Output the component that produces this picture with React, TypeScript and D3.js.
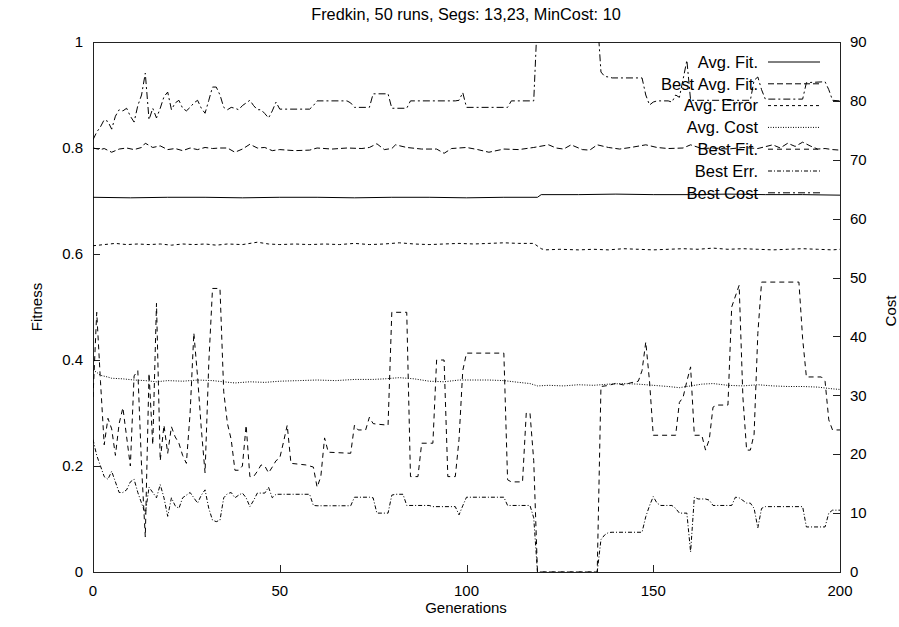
import React from 'react';
import * as d3 from 'd3';

const titleText = 'Fredkin, 50 runs, Segs: 13,23, MinCost: 10';
const xLabel = 'Generations';
const yLeftLabel = 'Fitness';
const yRightLabel = 'Cost';
const xTicks = [0, 50, 100, 150, 200];
const yLeftTicks = [0, 0.2, 0.4, 0.6, 0.8, 1];
const yRightTicks = [0, 10, 20, 30, 40, 50, 60, 70, 80, 90];

// [generation, value] — fitness series use the left axis, error/cost series the right axis
const avgFit: [number, number][] = [
  [0, 0.707], [10, 0.706], [20, 0.707], [30, 0.707], [40, 0.706], [50, 0.707], [60, 0.707], [70, 0.706],
  [80, 0.707], [90, 0.707], [100, 0.706], [110, 0.707], [119, 0.707], [120, 0.712], [130, 0.712], [140, 0.713],
  [150, 0.712], [160, 0.712], [170, 0.713], [180, 0.712], [190, 0.712], [200, 0.711],
];

const bestAvgFit: [number, number][] = [
  [0, 0.8], [2, 0.797], [3, 0.799], [5, 0.792], [7, 0.798], [9, 0.8], [11, 0.797], [13, 0.801], [14, 0.809],
  [16, 0.801], [18, 0.804], [20, 0.797], [22, 0.799], [24, 0.795], [26, 0.8], [28, 0.797], [30, 0.801],
  [32, 0.799], [34, 0.8], [36, 0.8], [38, 0.792], [40, 0.798], [42, 0.807], [44, 0.8], [46, 0.801], [48, 0.795],
  [50, 0.797], [54, 0.795], [58, 0.796], [60, 0.8], [64, 0.798], [68, 0.8], [72, 0.799], [74, 0.801],
  [76, 0.808], [78, 0.797], [80, 0.799], [81, 0.806], [84, 0.801], [88, 0.798], [92, 0.798], [94, 0.79],
  [96, 0.799], [100, 0.801], [103, 0.797], [106, 0.792], [110, 0.798], [114, 0.797], [118, 0.801], [122, 0.806],
  [124, 0.8], [126, 0.798], [128, 0.806], [131, 0.797], [133, 0.796], [135, 0.806], [138, 0.801], [141, 0.798],
  [144, 0.801], [148, 0.806], [151, 0.801], [154, 0.799], [158, 0.8], [160, 0.806], [163, 0.799], [166, 0.8],
  [170, 0.798], [174, 0.801], [178, 0.799], [182, 0.806], [184, 0.8], [186, 0.809], [188, 0.803], [190, 0.811],
  [192, 0.804], [194, 0.798], [196, 0.799], [198, 0.797], [200, 0.796],
];

const avgError: [number, number][] = [
  [0, 55.4], [3, 55.6], [6, 55.8], [9, 55.6], [12, 55.7], [15, 55.6], [18, 55.7], [21, 55.5], [24, 55.7],
  [27, 55.6], [30, 55.7], [33, 55.5], [36, 55.7], [40, 55.6], [44, 56.0], [47, 55.7], [50, 55.6], [54, 55.7],
  [58, 55.6], [62, 55.7], [66, 55.6], [70, 55.8], [74, 55.6], [78, 55.7], [82, 55.9], [86, 55.7], [90, 55.6],
  [94, 55.7], [98, 55.8], [102, 55.7], [106, 55.8], [110, 55.9], [114, 55.8], [118, 55.8], [120, 54.9],
  [121, 54.7], [125, 54.8], [130, 54.7], [134, 54.8], [138, 54.7], [142, 54.9], [146, 54.8], [150, 54.7],
  [154, 54.8], [158, 54.9], [162, 54.8], [166, 55.0], [170, 54.8], [174, 54.9], [178, 54.8], [182, 54.7],
  [186, 54.8], [190, 54.9], [194, 54.8], [198, 54.7], [200, 54.8],
];

const avgCost: [number, number][] = [
  [0, 34.3], [1, 33.9], [2, 33.4], [4, 33.1], [5, 32.9], [8, 32.8], [11, 32.6], [14, 32.5], [17, 32.3],
  [20, 32.5], [24, 32.4], [28, 32.6], [32, 32.5], [35, 32.3], [38, 32.1], [42, 32.3], [46, 32.2], [50, 32.4],
  [55, 32.5], [60, 32.6], [65, 32.5], [70, 32.7], [75, 32.7], [78, 32.8], [82, 33.0], [86, 32.8], [90, 32.4],
  [94, 32.3], [98, 32.6], [102, 32.6], [106, 32.6], [110, 32.5], [114, 32.2], [117, 32.0], [119, 31.6],
  [122, 31.7], [126, 31.6], [130, 31.8], [134, 31.7], [138, 31.9], [142, 32.0], [146, 31.9], [150, 31.7],
  [154, 31.5], [157, 31.3], [160, 31.6], [163, 31.9], [166, 32.0], [170, 31.7], [174, 31.6], [178, 31.8],
  [182, 31.6], [186, 31.5], [190, 31.5], [194, 31.4], [198, 31.1], [200, 31.0],
];

const bestFit: [number, number][] = [
  [0, 0.33], [1, 0.49], [2, 0.36], [3, 0.24], [4, 0.29], [5, 0.27], [6, 0.22], [7, 0.28], [8, 0.31], [9, 0.255],
  [10, 0.2], [11, 0.37], [12, 0.38], [13, 0.2], [14, 0.066], [15, 0.375], [16, 0.24], [17, 0.507], [18, 0.21],
  [19, 0.277], [20, 0.224], [21, 0.274], [22, 0.255], [23, 0.243], [24, 0.22], [25, 0.205], [26, 0.3],
  [27, 0.451], [28, 0.368], [29, 0.27], [30, 0.187], [31, 0.394], [32, 0.535], [34, 0.535], [35, 0.34],
  [36, 0.28], [37, 0.25], [38, 0.192], [39, 0.192], [40, 0.2], [41, 0.277], [42, 0.18], [43, 0.18], [44, 0.19],
  [45, 0.202], [46, 0.2], [47, 0.187], [48, 0.198], [49, 0.21], [50, 0.215], [51, 0.245], [52, 0.277],
  [53, 0.205], [57, 0.202], [58, 0.2], [59, 0.198], [60, 0.16], [61, 0.18], [62, 0.253], [63, 0.226],
  [69, 0.224], [70, 0.277], [71, 0.268], [73, 0.268], [74, 0.292], [75, 0.28], [76, 0.279], [79, 0.277],
  [80, 0.49], [84, 0.49], [85, 0.18], [87, 0.18], [88, 0.243], [91, 0.243], [92, 0.4], [94, 0.4], [95, 0.18],
  [97, 0.18], [98, 0.25], [99, 0.38], [100, 0.413], [110, 0.413], [111, 0.174], [112, 0.17], [115, 0.17],
  [116, 0.3], [117, 0.3], [118, 0.21], [119, 0], [135, 0], [136, 0.35], [138, 0.352], [140, 0.356],
  [142, 0.353], [144, 0.357], [146, 0.36], [147, 0.38], [148, 0.434], [149, 0.36], [150, 0.258], [156, 0.258],
  [157, 0.32], [158, 0.33], [159, 0.36], [160, 0.387], [161, 0.258], [163, 0.258], [164, 0.23], [165, 0.25],
  [166, 0.311], [167, 0.315], [170, 0.315], [171, 0.5], [173, 0.541], [174, 0.33], [175, 0.23], [176, 0.23],
  [177, 0.26], [178, 0.45], [179, 0.547], [189, 0.547], [190, 0.44], [191, 0.368], [195, 0.368], [196, 0.36],
  [197, 0.287], [198, 0.268], [200, 0.268],
];

const bestErr: [number, number][] = [
  [0, 22.5], [1, 19.8], [2, 18], [3, 16.2], [4, 15.75], [5, 17.1], [6, 15.3], [7, 13.5], [8, 13.5], [9, 13.95],
  [10, 15.3], [11, 15.75], [12, 13.5], [13, 11.7], [14, 9.9], [15, 14.4], [16, 13.5], [17, 12.6], [18, 14.85],
  [19, 12.6], [20, 9.45], [21, 12.6], [22, 11.25], [23, 10.8], [24, 12.6], [25, 13.05], [26, 13.5], [27, 12.6],
  [28, 11.7], [29, 13.05], [30, 13.95], [31, 10.8], [32, 8.8], [33, 8.55], [34, 8.8], [35, 12.6], [36, 13.3],
  [37, 13.5], [38, 12.6], [39, 13.05], [40, 13.4], [41, 12.6], [42, 11.1], [43, 12.15], [44, 13.4], [46, 13.4],
  [47, 14.4], [48, 12.6], [49, 13.2], [58, 13.2], [59, 11.3], [60, 11.25], [69, 11.25], [70, 12.7], [74, 12.7],
  [75, 12.6], [76, 10], [79, 10], [80, 13.05], [81, 13.2], [83, 13.2], [84, 11.3], [90, 11.3], [91, 11.1],
  [97, 11.1], [98, 9.7], [99, 11.25], [100, 12.7], [110, 12.7], [111, 11.3], [117, 11.3], [118, 9.2], [119, 0],
  [135, 0], [136, 5.5], [137, 6.3], [138, 6.7], [139, 6.75], [147, 6.75], [148, 9.4], [149, 11.25], [150, 12.8],
  [151, 11.7], [152, 11.3], [155, 11.3], [156, 10.8], [157, 10], [159, 10], [160, 3.4], [161, 12.7], [162, 12.4],
  [164, 12.4], [165, 12.2], [166, 11.3], [171, 11.3], [172, 12.7], [173, 12.6], [174, 12.15], [175, 11.7],
  [176, 11.7], [177, 10.8], [178, 7.5], [179, 10.8], [180, 11.1], [190, 11.1], [191, 7.65], [196, 7.65],
  [197, 10], [198, 10.5], [200, 10.5],
];

const bestCost: [number, number][] = [
  [0, 73.4], [1, 74.7], [2, 75.6], [3, 76.8], [4, 76.5], [5, 75.2], [6, 77.4], [7, 78.5], [8, 78.3], [9, 78.75],
  [10, 77.4], [11, 76.4], [12, 79.2], [13, 81], [14, 84.7], [15, 76.8], [16, 78.75], [17, 77.1], [18, 78.75],
  [19, 80.7], [20, 81.5], [21, 78.5], [22, 79.65], [23, 80.1], [24, 78.75], [25, 78.3], [26, 78.9], [27, 79.65],
  [28, 80.1], [29, 78.75], [30, 77.9], [31, 80.1], [32, 82.35], [33, 82.35], [34, 81], [35, 78.9], [36, 78.5],
  [37, 78.9], [38, 78.75], [39, 78.5], [40, 79.2], [41, 79.65], [42, 80.1], [43, 79.2], [44, 78.5], [45, 78.5],
  [46, 77.85], [47, 77.1], [48, 78.3], [49, 79.8], [50, 78.6], [58, 78.6], [59, 79.2], [60, 80], [68, 80],
  [69, 79.65], [70, 78.9], [74, 78.9], [75, 81.2], [79, 81.2], [80, 78.75], [84, 78.75], [85, 80], [97, 80],
  [98, 80.1], [99, 81.4], [100, 78.9], [111, 78.9], [112, 80], [118, 80], [119, 94.5], [135, 94.5], [136, 84.9],
  [137, 84.15], [138, 84.06], [139, 83.9], [147, 83.9], [148, 81], [149, 79.3], [150, 79.8], [151, 80], [154, 80],
  [155, 79.8], [156, 81], [157, 80.6], [158, 83.7], [159, 86.9], [160, 80.1], [176, 80.1], [177, 83.5],
  [178, 84.06], [179, 81.9], [180, 80.3], [190, 80.3], [191, 83.1], [196, 83.25], [197, 81.9], [198, 80.1],
  [200, 80],
];

const seriesNames = ['Avg. Fit.', 'Best Avg. Fit.', 'Avg. Error', 'Avg. Cost', 'Best Fit.', 'Best Err.', 'Best Cost'];
const seriesData = [avgFit, bestAvgFit, avgError, avgCost, bestFit, bestErr, bestCost];
const seriesAxis = ['L', 'L', 'R', 'R', 'L', 'R', 'R'];
const seriesDash = ['none', '6,3', '3,3', '1,1.5', '5,4', '4,2,1,2', '7,3,2,3'];

const FONT = '"Liberation Sans", Arial, Helvetica, sans-serif';

export default function App() {
  const W = 899;
  const H = 627;
  const left = 93, right = 840, top = 42, bottom = 572;
  const x = d3.scaleLinear().domain([0, 200]).range([left, right]);
  const yL = d3.scaleLinear().domain([0, 1]).range([bottom, top]);
  const yR = d3.scaleLinear().domain([0, 90]).range([bottom, top]);
  const tick = 7;
  const fs = 15;

  const legendX = 758;
  const legendY0 = 62;
  const legendStep = 21.8;

  return (
    <svg width={W} height={H} style={{ position: 'absolute', left: 0, top: 0, background: '#fff', display: 'block' }}
      fontFamily={FONT} fontSize={fs}>
      <defs>
        <clipPath id="plotclip">
          <rect x={left} y={top} width={right - left} height={bottom - top} />
        </clipPath>
      </defs>
      <rect x={0} y={0} width={W} height={H} fill="#fff" />
      <rect x={left + 0.5} y={top + 0.5} width={right - left} height={bottom - top} fill="none" stroke="#222" strokeWidth={1} />
      {xTicks.map((t) => (
        <g key={'x' + t}>
          <line x1={Math.round(x(t)) + 0.5} x2={Math.round(x(t)) + 0.5} y1={bottom} y2={bottom - tick} stroke="#222" />
          <text x={x(t)} y={596} textAnchor="middle">{t}</text>
        </g>
      ))}
      {yLeftTicks.map((t) => (
        <g key={'yl' + t}>
          <line x1={left} x2={left + tick} y1={Math.round(yL(t)) + 0.5} y2={Math.round(yL(t)) + 0.5} stroke="#222" />
          <text x={83} y={yL(t)} dy="0.35em" textAnchor="end">{t}</text>
        </g>
      ))}
      {yRightTicks.map((t) => (
        <g key={'yr' + t}>
          <line x1={right - tick} x2={right} y1={Math.round(yR(t)) + 0.5} y2={Math.round(yR(t)) + 0.5} stroke="#222" />
          <text x={850} y={yR(t)} dy="0.35em" textAnchor="start">{t}</text>
        </g>
      ))}
      <text x={466} y={20} textAnchor="middle" fontSize={16.3}>{titleText}</text>
      <text x={466} y={613} textAnchor="middle">{xLabel}</text>
      <text transform={`translate(42,307) rotate(-90)`} textAnchor="middle">{yLeftLabel}</text>
      <text transform={`translate(896,311) rotate(-90)`} textAnchor="middle">{yRightLabel}</text>
      {seriesNames.map((name, i) => {
        const ys = seriesAxis[i] === 'L' ? yL : yR;
        const line = d3.line<[number, number]>().x((d) => x(d[0])).y((d) => ys(d[1]));
        const ly = legendY0 + i * legendStep;
        const dash = seriesDash[i] === 'none' ? undefined : seriesDash[i];
        return (
          <g key={name}>
            <text x={legendX} y={ly} dy="0.35em" textAnchor="end" fontSize={16.5}>{name}</text>
            <line x1={768} x2={820} y1={ly} y2={ly} stroke="#000" strokeWidth={1} strokeDasharray={dash} />
            <path d={line(seriesData[i]) || ''} fill="none" stroke="#000" strokeWidth={1}
              strokeDasharray={dash} clipPath="url(#plotclip)" />
          </g>
        );
      })}
    </svg>
  );
}
